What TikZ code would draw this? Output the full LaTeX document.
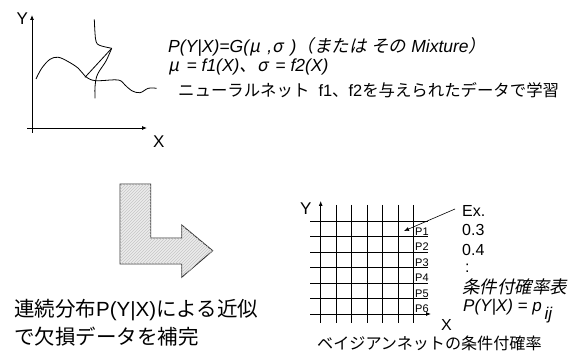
\documentclass[tikz,border=0pt]{standalone}
\usepackage{fontspec}
\setmainfont{Liberation Sans}
\newfontfamily\jp{Noto Sans CJK JP}
\newfontfamily\jpit[FakeSlant=0.2]{Noto Sans CJK JP}
\usetikzlibrary{patterns,arrows.meta}
\newcommand\setfs[1]{\fontsize{#1}{#1}\selectfont}
\newcommand\gk[1]{\makebox[1.05em][l]{\jpit #1}}
\begin{document}
\begin{tikzpicture}[x=1pt,y=-1pt,
  ln/.style={line width=0.8pt},
  ax/.style={line width=0.8pt,-{Latex[length=5pt,width=4pt]}},
  lbl/.style={inner sep=0pt,anchor=base west},
]
\useasboundingbox (0,0) rectangle (576,352);

% ---- top-left plot
\coordinate (a1o) at (32,133);
\coordinate (a1y) at (32,15);
\coordinate (a1xs) at (27,128);
\coordinate (a1x) at (147,128);
\draw[ax] (a1o) -- (a1y);
\draw[ax] (a1xs) -- (a1x);
\node[lbl,font=\setfs{17}] (Y1) at (16.5,25) {Y};
\node[lbl,font=\setfs{17}] (X1) at (153,148) {X};
\draw[ln] plot[smooth,tension=0.6] coordinates {(36,79) (41.7,68.3) (50,59.3) (58.3,57.3) (68.3,61.7) (78.3,68.3) (85,76) (91.7,80) (100,80.7) (118.3,80) (125,85) (131.7,90.7) (140,92.7) (148.3,88.3) (156.7,88.3)};
\coordinate (cusp) at (111.7,48.3);
\draw[ln] plot[smooth,tension=0.6] coordinates {(94.3,19.3) (95,33) (96.2,42) (100,45.5) (111.7,48.3)};
\draw[ln] plot[smooth,tension=0.6] coordinates {(111.7,48.3) (106,61) (100,70) (96.5,77) (95,87) (95,98.3)};
\coordinate (cross) at (85,77.3);
\draw[ln] (cusp) -- (cross);

% ---- top text
\node[lbl,font=\setfs{17.5}] (t1) at (168,53)
  {\itshape P(Y|X)=G(\gk{μ},\gk{σ}){\jpit （または}\hspace{0.28em}{\jpit その}\hspace{0.28em}Mixture{\jpit ）}};
\node[lbl,font=\setfs{17.5}] (t2) at (168,72)
  {\itshape \gk{μ}= f1(X){\jpit 、}\gk{σ}= f2(X)};
\node[lbl,font=\setfs{16.4}] (t3) at (178,97)
  {{\jp ニューラルネット}\ \ f1{\jp 、}f2{\jp を与えられたデータで学習}};

% ---- block arrow
\path[draw=black!80, line width=0.9pt, fill=gray!15,
      postaction={pattern=north east lines, pattern color=gray!45}]
  (120,184) -- (150.7,184) -- (150.7,238) -- (181.7,238) -- (181.7,225)
  -- (212.7,250.7) -- (181.7,277.3) -- (181.7,264) -- (120,264) -- cycle;

% ---- bottom-left text
\node[lbl,font=\setfs{20.5}] (b1) at (14,317)
  {{\jp 連続分布}P(Y|X){\jp による近似}};
\node[lbl,font=\setfs{20.5}] (b2) at (14,345)
  {{\jp で欠損データを補完}};

% ---- grid
\foreach \i in {1,...,6} {
  \draw[ln] ({320.7+15.45*\i},205) -- ({320.7+15.45*\i},323);
}
\coordinate (a2o) at (320.7,323);
\coordinate (a2y) at (320.7,201);
\draw[ax] (a2o) -- (a2y);
\draw[ln] (310,221) -- (428,221);
\foreach \k in {1,...,5} {
  \draw[ln] (310,{221+15.5*\k}) -- (428,{221+15.5*\k});
}
\coordinate (a2xs) at (310,314);
\coordinate (a2x) at (431,314);
\draw[ax] (a2xs) -- (a2x);
\foreach \k in {1,...,6} {
  \node[lbl,font=\setfs{11}] (p\k) at (415,{221+15.5*\k-1}) {P\k};
}
\node[lbl,font=\setfs{17}] (Y2) at (300,215) {Y};
\node[lbl,font=\setfs{16}] (X2) at (441,331) {X};

% ---- example arrow & texts
\coordinate (exs) at (455,209);
\coordinate (exe) at (404,231);
\draw[line width=0.6pt,-{Latex[length=5pt,width=4pt]}] (exs) -- (exe);
\node[lbl,font=\setfs{16}] (ex) at (462,217) {Ex.};
\node[lbl,font=\setfs{16}] (v1) at (462,236) {0.3};
\node[lbl,font=\setfs{16}] (v2) at (462,256) {0.4};
\node[lbl,font=\setfs{16}] (v3) at (465,273) {:};
\node[lbl,font=\setfs{17.5}] (cpt) at (462,294) {\jpit 条件付確率表};
\node[lbl,font=\setfs{17}] (pij) at (463,312) {\itshape P(Y|X) = p\,\raisebox{-8pt}{ij}};

\node[lbl,font=\setfs{16.1}] (bn) at (317,349.5) {\jp ベイジアンネットの条件付確率};
\end{tikzpicture}
\end{document}
